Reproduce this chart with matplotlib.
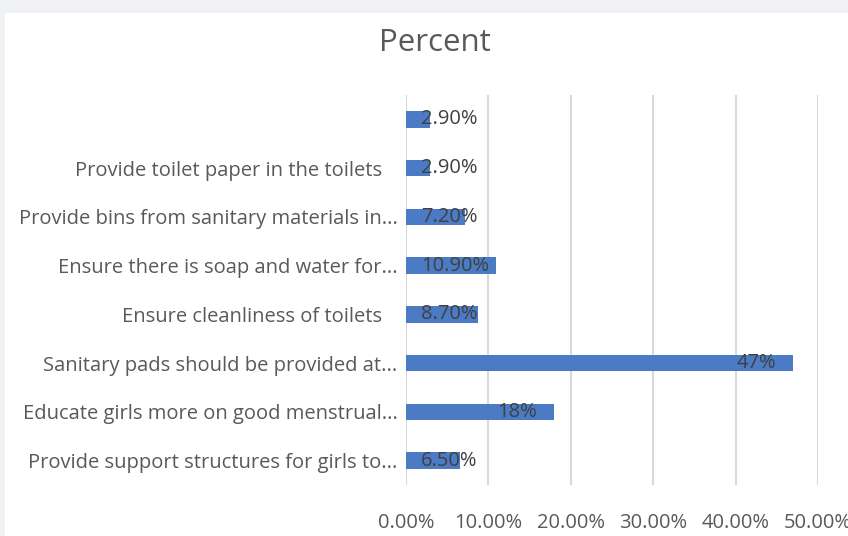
import matplotlib
matplotlib.use('Agg')
import matplotlib.pyplot as plt
import matplotlib.transforms as mtransforms

# Data (bottom to top)
categories = ['Provide support structures for girls to...',
              'Educate girls more on good menstrual...',
              'Sanitary pads should be provided at...',
              'Ensure cleanliness of toilets',
              'Ensure there is soap and water for...',
              'Provide bins from sanitary materials in...',
              'Provide toilet paper in the toilets',
              '']
values = [6.5, 18, 47, 8.7, 10.9, 7.2, 2.9, 2.9]
value_labels = ['6.50%', '18%', '47%', '8.70%', '10.90%', '7.20%', '2.90%', '2.90%']
x_ticks = [0, 10, 20, 30, 40, 50]
x_ticklabels = ['0.00%', '10.00%', '20.00%', '30.00%', '40.00%', '50.00%']

# Styles
BG = '#eff1f5'
BAR = '#4a7bc4'
TXT = '#595959'
GRID = '#d9d9d9'
FS = 14.5
plt.rcParams['font.family'] = ['Open Sans', 'DejaVu Sans']

fig = plt.figure(figsize=(8.48, 5.36), dpi=100, facecolor=BG)
# white chart panel
fig.patches.append(plt.Rectangle((5 / 848, 0), 1, 1 - 13 / 536, transform=fig.transFigure,
                                 facecolor='white', edgecolor='none', zorder=-10))

ax = fig.add_axes([406 / 848, 51 / 536, 412 / 848, 390 / 536])
ax.set_zorder(1)
ax.set_facecolor('white')

y = list(range(len(values)))
ax.barh(y, values, height=0.34, color=BAR, zorder=2)

ax.set_xlim(0, 50)
ax.set_ylim(-0.5, len(values) - 0.5)
ax.set_xticks(x_ticks)
ax.set_xticklabels(x_ticklabels, fontsize=FS, color=TXT)
ax.set_yticks(y)
ax.set_yticklabels(categories, fontsize=FS, color=TXT)
ax.tick_params(axis='x', length=0, pad=20)
ax.tick_params(axis='y', length=0, pad=6)
ax.grid(axis='x', color=GRID, linewidth=1.5, zorder=1)
ax.set_axisbelow(True)
for s in ax.spines.values():
    s.set_visible(False)

# shift labels that are not truncated a little to the left
shift = mtransforms.ScaledTranslation(-16 / 100, 0, fig.dpi_scale_trans)
for lab in ax.get_yticklabels():
    if lab.get_text() and not lab.get_text().endswith('...'):
        lab.set_transform(lab.get_transform() + shift)

# data labels: inside end, clamped so they start near the bar base
fig.canvas.draw()
renderer = fig.canvas.get_renderer()
px_per_unit = ax.transData.transform((1, 0))[0] - ax.transData.transform((0, 0))[0]
for yi, v, lab in zip(y, values, value_labels):
    t = ax.text(0, yi, lab, fontsize=FS, color='#404040', va='center', ha='left', zorder=3)
    w = t.get_window_extent(renderer).width / px_per_unit
    left = max(v - 2.07 - w, 1.8)
    t.set_x(left)

fig.text(435 / 848, 1 - 43 / 536, 'Percent', fontsize=22.5, color=TXT, ha='center', va='center')

fig.savefig('out.png', dpi=100, facecolor=BG)
